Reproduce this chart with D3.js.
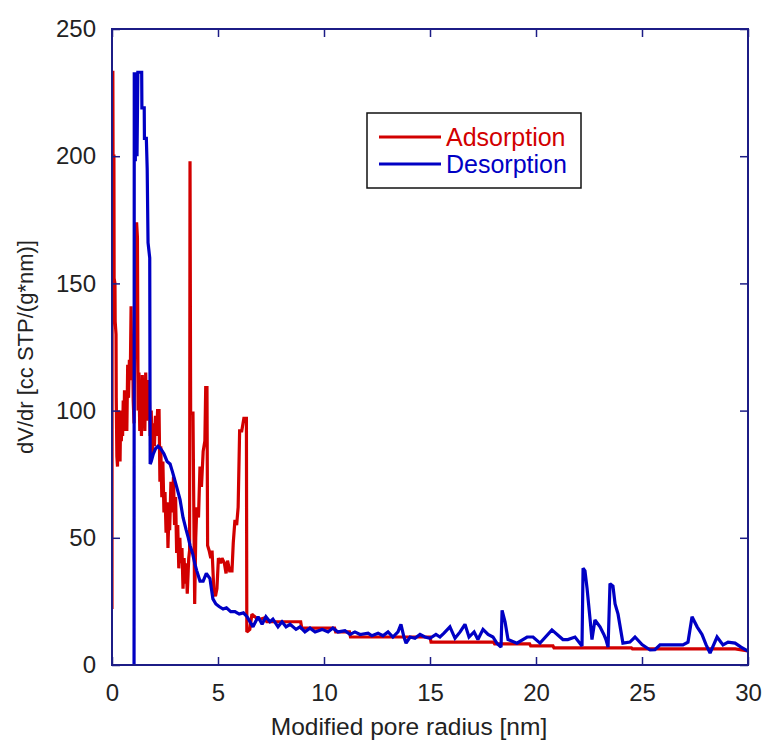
<!DOCTYPE html>
<html>
<head>
<meta charset="utf-8">
<script src="https://cdn.jsdelivr.net/npm/d3@7"></script>
<style>
  html, body { margin: 0; padding: 0; background: #fff; }
  svg { display: block; font-family: Arial, "Liberation Sans", sans-serif; }
</style>
</head>
<body>
<svg id="chart" width="766" height="753"></svg>
<script>
// Pore size distribution, dV/dr vs modified pore radius
const xTicks = [0, 5, 10, 15, 20, 25, 30];
const yTicks = [0, 50, 100, 150, 200, 250];
const seriesNames = ["Adsorption", "Desorption"];
const seriesColors = ["#d20000", "#0000c4"];

// Adsorption branch: [radius nm, dV/dr]
const adsorption = [
  [0.00, 22], [0.01, 233], [0.04, 233], [0.05, 200], [0.09, 200], [0.10, 152],
  [0.14, 150], [0.15, 135], [0.19, 130], [0.20, 105], [0.23, 82], [0.26, 78],
  [0.29, 100], [0.32, 86], [0.35, 96], [0.38, 80], [0.41, 100], [0.44, 88],
  [0.47, 97], [0.50, 90], [0.53, 104], [0.56, 92], [0.59, 108], [0.62, 95],
  [0.66, 100], [0.70, 92], [0.74, 118], [0.78, 105], [0.82, 120], [0.86, 112],
  [0.90, 141], [0.93, 118], [0.97, 128], [1.00, 104], [1.04, 95], [1.08, 130],
  [1.12, 150], [1.16, 174], [1.20, 168], [1.23, 100], [1.27, 115], [1.31, 92],
  [1.35, 108], [1.39, 90], [1.43, 114], [1.47, 95], [1.51, 110], [1.55, 92],
  [1.59, 115], [1.63, 96], [1.67, 112], [1.71, 98], [1.75, 110], [1.80, 90],
  [1.85, 100], [1.90, 82], [1.95, 95], [2.00, 86], [2.05, 98], [2.10, 90],
  [2.15, 100], [2.22, 100], [2.26, 72], [2.30, 86], [2.35, 66], [2.40, 80],
  [2.45, 60], [2.50, 68], [2.55, 52], [2.60, 64], [2.64, 46], [2.68, 58],
  [2.72, 53], [2.78, 72], [2.84, 60], [2.90, 74], [2.95, 55], [3.00, 66],
  [3.05, 44], [3.10, 55], [3.15, 38], [3.20, 50], [3.25, 40], [3.30, 46],
  [3.35, 30], [3.40, 42], [3.45, 32], [3.50, 40], [3.55, 28], [3.62, 42],
  [3.66, 45], [3.68, 198], [3.71, 99], [3.82, 99], [3.86, 60], [3.90, 24],
  [3.95, 50], [4.00, 62], [4.08, 58], [4.15, 78], [4.22, 70], [4.30, 84],
  [4.38, 88], [4.42, 109], [4.48, 109], [4.51, 47], [4.58, 45], [4.66, 42],
  [4.72, 45], [4.80, 30], [4.88, 27], [4.95, 30], [5.02, 42], [5.12, 40],
  [5.19, 42], [5.30, 40], [5.38, 36], [5.45, 41], [5.55, 37], [5.66, 37],
  [5.72, 48], [5.80, 57], [5.88, 55], [5.95, 62], [6.02, 92], [6.12, 92],
  [6.22, 97], [6.34, 97], [6.36, 13], [6.50, 14], [6.60, 20], [6.80, 18.5],
  [6.98, 18], [7.20, 18.5], [7.30, 17], [8.90, 17], [8.95, 14.5], [10.50, 14.5],
  [10.55, 13], [11.20, 13], [11.25, 11], [15.00, 11], [15.05, 9], [18.00, 9],
  [18.05, 8.3], [19.70, 8.3], [19.75, 7.5], [20.80, 7.5], [20.85, 6.7], [24.50, 6.7],
  [24.55, 6.3], [29.40, 6.3], [30.00, 5.5]
];

// Desorption branch: [radius nm, dV/dr]
const desorption = [
  [1.04, 0], [1.05, 233], [1.10, 198], [1.13, 233], [1.18, 200], [1.22, 233],
  [1.40, 233], [1.41, 219], [1.52, 219], [1.53, 207], [1.62, 207], [1.66, 195],
  [1.70, 166], [1.78, 160], [1.80, 79], [1.85, 80], [1.95, 83], [2.05, 85],
  [2.17, 86], [2.30, 85], [2.45, 83], [2.60, 80], [2.74, 79], [2.85, 76],
  [2.95, 73], [3.05, 70], [3.21, 65], [3.35, 58], [3.50, 53], [3.60, 50],
  [3.68, 47], [3.80, 44], [3.90, 40], [4.00, 37], [4.15, 33], [4.30, 33],
  [4.45, 36], [4.62, 34], [4.76, 26], [4.90, 24], [5.05, 23], [5.24, 22],
  [5.40, 22.5], [5.60, 21], [5.80, 21], [6.00, 20], [6.20, 20.5], [6.37, 19],
  [6.65, 15], [6.89, 19], [7.08, 16], [7.26, 19], [7.45, 17], [7.59, 18],
  [7.83, 15], [8.02, 17], [8.21, 15], [8.40, 16], [8.68, 14], [8.87, 15],
  [9.10, 13], [9.34, 14.5], [9.58, 13], [9.91, 14], [10.19, 13], [10.42, 14.5],
  [10.66, 13], [10.99, 13.5], [11.23, 12], [11.46, 13], [11.70, 12], [12.08, 12.5],
  [12.26, 11.5], [12.55, 12.5], [12.78, 11.5], [13.02, 13], [13.25, 11], [13.49, 13],
  [13.63, 16], [13.77, 11], [13.87, 8.6], [14.06, 11], [14.29, 10.5], [14.53, 12],
  [14.76, 11], [15.00, 10.5], [15.28, 12], [15.47, 11], [15.66, 12.5], [15.94, 15],
  [16.18, 10.5], [16.42, 13], [16.65, 16], [16.84, 11], [17.08, 13], [17.26, 10],
  [17.50, 14], [17.74, 12], [17.97, 11], [18.16, 8.5], [18.35, 7], [18.40, 21.5],
  [18.54, 17], [18.68, 10], [19.10, 8.6], [19.58, 11], [19.86, 11], [20.19, 8.6],
  [20.75, 13.8], [21.27, 10], [21.50, 10], [21.84, 11], [22.17, 7.5], [22.22, 38],
  [22.31, 37], [22.41, 30], [22.55, 18], [22.64, 10], [22.78, 17.7], [23.02, 15],
  [23.20, 12], [23.30, 10], [23.40, 7], [23.49, 32], [23.63, 31], [23.73, 24],
  [23.87, 20], [24.10, 8.6], [24.43, 9], [24.67, 11], [25.00, 8], [25.38, 5.9],
  [25.61, 6], [25.85, 7.9], [26.93, 7.9], [27.17, 9], [27.36, 19], [27.60, 15],
  [27.83, 12], [28.02, 8], [28.21, 4.7], [28.54, 11], [28.82, 7.9], [29.06, 9],
  [29.39, 8.6], [29.67, 7], [30.00, 5.5]
];

const svg = d3.select("#chart");
const plot = { left: 112, right: 748, top: 29, bottom: 665 };
const axisColor = "#1c1c86";
const textColor = "#222";

const x = d3.scaleLinear().domain([0, 30]).range([plot.left, plot.right]);
const y = d3.scaleLinear().domain([0, 250]).range([plot.bottom, plot.top]);

svg.append("defs").append("clipPath").attr("id", "plot-clip")
  .append("rect")
  .attr("x", plot.left).attr("y", plot.top - 2)
  .attr("width", plot.right - plot.left).attr("height", plot.bottom - plot.top + 2);

// Data lines
const line = d3.line().x(d => x(d[0])).y(d => y(d[1]));
const g = svg.append("g").attr("clip-path", "url(#plot-clip)");
[adsorption, desorption].forEach((data, i) => {
  g.append("path")
    .datum(data)
    .attr("fill", "none")
    .attr("stroke", seriesColors[i])
    .attr("stroke-width", 3.2)
    .attr("stroke-linejoin", "miter")
    .attr("stroke-miterlimit", 2)
    .attr("d", line);
});

// Axes with inward ticks on all four sides
const tickLen = 8;
const bottomAxis = d3.axisBottom(x).tickValues(xTicks).tickSize(-tickLen).tickPadding(19);
const topAxis = d3.axisTop(x).tickValues(xTicks).tickSize(-tickLen).tickFormat("");
const leftAxis = d3.axisLeft(y).tickValues(yTicks).tickSize(-tickLen).tickPadding(16);
const rightAxis = d3.axisRight(y).tickValues(yTicks).tickSize(-tickLen).tickFormat("");

function styleAxis(sel) {
  sel.select(".domain").remove();
  sel.selectAll(".tick line").attr("stroke", axisColor).attr("stroke-width", 1.5);
  sel.selectAll(".tick text")
    .attr("fill", textColor)
    .style("font-size", "24px")
    .style("font-family", "Arial, 'Liberation Sans', sans-serif");
}

svg.append("g").attr("transform", `translate(0,${plot.bottom})`).call(bottomAxis).call(styleAxis);
svg.append("g").attr("transform", `translate(0,${plot.top})`).call(topAxis).call(styleAxis);
svg.append("g").attr("transform", `translate(${plot.left},0)`).call(leftAxis).call(styleAxis);
svg.append("g").attr("transform", `translate(${plot.right},0)`).call(rightAxis).call(styleAxis);

// Frame
svg.append("rect")
  .attr("x", plot.left).attr("y", plot.top)
  .attr("width", plot.right - plot.left).attr("height", plot.bottom - plot.top)
  .attr("fill", "none").attr("stroke", axisColor).attr("stroke-width", 2);

// Axis titles
svg.append("text")
  .attr("x", 409)
  .attr("y", 735)
  .attr("text-anchor", "middle")
  .attr("fill", textColor)
  .style("font-size", "24.5px")
  .text("Modified pore radius [nm]");

svg.append("text")
  .attr("transform", `translate(33,${(plot.top + plot.bottom) / 2}) rotate(-90)`)
  .attr("text-anchor", "middle")
  .attr("fill", textColor)
  .style("font-size", "22px")
  .text("dV/dr [cc STP/(g*nm)]");

// Legend
const legend = svg.append("g");
legend.append("rect")
  .attr("x", 367).attr("y", 113).attr("width", 214).attr("height", 75)
  .attr("fill", "#fff").attr("stroke", "#111").attr("stroke-width", 1.5);
seriesNames.forEach((name, i) => {
  const ly = 137 + i * 27;
  legend.append("line")
    .attr("x1", 379).attr("x2", 441).attr("y1", ly).attr("y2", ly)
    .attr("stroke", seriesColors[i]).attr("stroke-width", 3);
  legend.append("text")
    .attr("x", 446).attr("y", ly + 9)
    .attr("fill", seriesColors[i])
    .style("font-size", "25px")
    .text(name);
});
</script>
</body>
</html>
